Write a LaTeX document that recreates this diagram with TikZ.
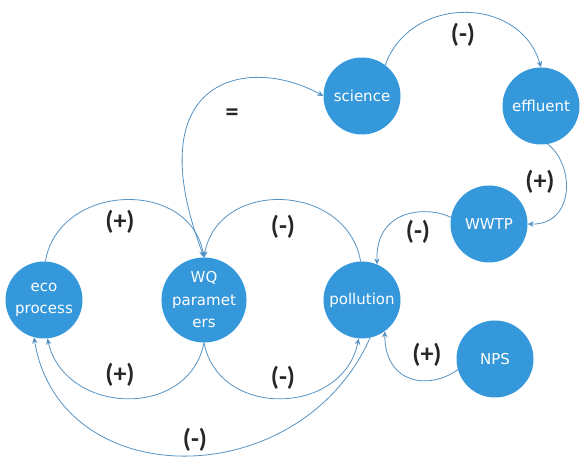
\documentclass[tikz,border=0pt]{standalone}
\usepackage{fontspec}
\setmainfont{Carlito}
\newfontfamily\nodefont{DejaVu Sans}
\usetikzlibrary{arrows.meta}
\definecolor{nodeblue}{RGB}{52,152,219}
\definecolor{edgeblue}{RGB}{84,146,196}
\tikzset{
  circ/.style={circle, fill=nodeblue, draw=none, minimum size=77pt, inner sep=0pt,
    text=white, align=center, font=\nodefont\fontsize{15}{22.5}\selectfont},
  link/.style={draw=edgeblue, line width=0.8pt, -{Stealth[length=6pt,width=5.5pt]}},
  bilink/.style={draw=edgeblue, line width=0.8pt, {Stealth[length=6pt,width=5.5pt]}-{Stealth[length=6pt,width=5.5pt]}},
  sign/.style={font=\bfseries\fontsize{26}{28}\selectfont, text=black!85, inner sep=0pt}
}
\begin{document}
\begin{tikzpicture}[x=1pt,y=1pt]
\useasboundingbox (0,0) rectangle (581,465);
% nodes
\node[circ] (eco) at (44,165) {eco\\process};
\node[circ] (wq) at (204,165) {WQ\\paramet\\ers};
\node[circ] (pol) at (362,165) {pollution};
\node[circ] (sci) at (362,369) {science};
\node[circ] (eff) at (541,359) {effluent};
\node[circ] (wwtp) at (489,241) {WWTP};
\node[circ] (nps) at (495,106) {NPS};
% edges
\draw[link] (eco.88) .. controls +(14,79) and +(-14,79) .. (wq.north);
\draw[link] (pol.92) .. controls +(-14,79) and +(14,79) .. (wq.north);
\draw[link] (wq.south) .. controls +(-15,-77) and +(18,-77) .. (eco.-85);
\draw[link] (wq.south) .. controls +(15,-77) and +(-15,-77) .. (pol.-95);
\draw[link] (pol.-78) .. controls (300,-30) and (60,-30) .. (eco.-105);
\draw[bilink] (wq.north) .. controls (135,390) and (250,410) .. (sci.west);
\draw[link] (sci.53) .. controls (410,470) and (520,470) .. (eff.north);
\draw[link] (eff.-80) .. controls (575,300) and (575,240) .. (wwtp.east);
\draw[link] (wwtp.170) .. controls (425,260) and (375,255) .. (pol.67);
\draw[link] (nps.196) .. controls (430,75) and (385,80) .. (pol.-54);
% labels
\node[sign] (l1) at (120,243) {(+)};
\node[sign] (l2) at (120,90) {(+)};
\node[sign] (l3) at (283,238) {(-)};
\node[sign] (l4) at (283,87) {(-)};
\node[sign] (l5) at (195,25) {(-)};
\node[sign] (l6) at (232,350) {=};
\node[sign] (l7) at (463,430) {(-)};
\node[sign] (l8) at (540,283) {(+)};
\node[sign] (l9) at (418,233) {(-)};
\node[sign] (l10) at (427,110) {(+)};
\end{tikzpicture}
\end{document}
